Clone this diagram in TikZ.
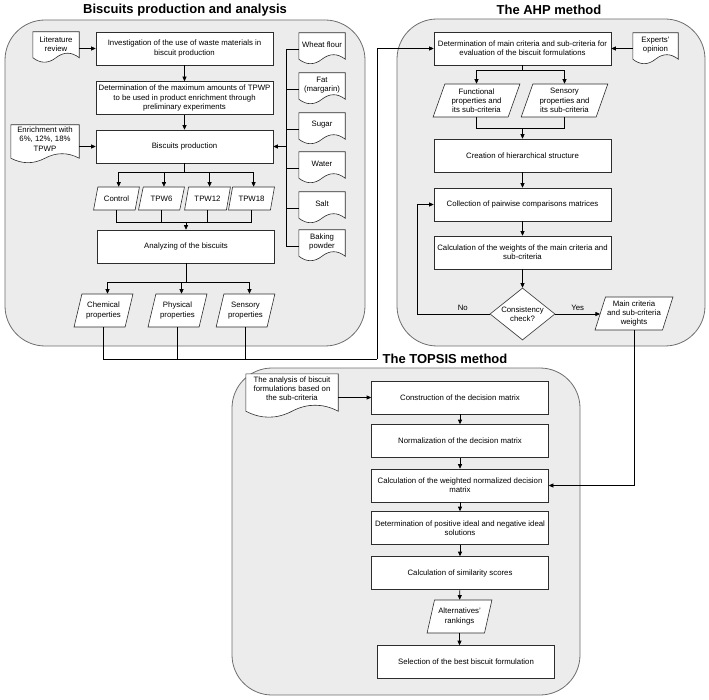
\documentclass[tikz,border=0pt]{standalone}
\usepackage{fontspec}
\setmainfont{Liberation Sans}
\usetikzlibrary{shapes.geometric,arrows.meta,calc}
\pgfdeclarelayer{panels}
\pgfdeclarelayer{docs}
\pgfsetlayers{panels,docs,main}
\definecolor{panelfill}{RGB}{236,236,236}
\definecolor{panelline}{RGB}{110,110,110}
\definecolor{nodeline}{RGB}{45,45,45}
\newcommand\myfs{\fontsize{7.8}{9.2}\selectfont}
% #1 node, #2 wave amplitude, #3 extension below node
\newcommand\docshape[3]{%
  \path[docbody] let \p1=([yshift=-#3]#1.south west), \p2=(#1.north east), \n1={(\x2-\x1)/6} in
    (\x1,\y1) -- (\x1,\y2) -- (\x2,\y2) -- (\x2,\y1)
    .. controls ({\x2-\n1},{\y1+#2}) and ({\x1+4*\n1},{\y1+#2}) .. ({\x1+3*\n1},\y1)
    .. controls ({\x1+2*\n1},{\y1-#2}) and ({\x1+\n1},{\y1-#2}) .. (\x1,\y1) -- cycle;}
\begin{document}
\begin{tikzpicture}[x=1pt,y=-1pt,
  pbox/.style={draw=nodeline, fill=white, line width=0.6pt, minimum width=177pt, minimum height=33pt, align=center, inner sep=1pt, font=\myfs},
  iosmall/.style={trapezium, trapezium stretches=true, trapezium left angle=63, trapezium right angle=117, draw=nodeline, fill=white, line width=0.6pt, align=center, inner sep=0pt, font=\myfs, minimum width=46pt, minimum height=23pt},
  iobig/.style={trapezium, trapezium stretches=true, trapezium left angle=69, trapezium right angle=111, draw=nodeline, fill=white, line width=0.6pt, align=center, inner sep=0pt, font=\myfs, minimum height=33pt},
  docnode/.style={align=center, inner sep=0pt, font=\myfs},
  docbody/.style={draw=nodeline, fill=white, line width=0.6pt},
  conn/.style={draw=black, line width=0.6pt},
  arr/.style={conn, -{Triangle[length=4.5pt,width=4pt]}},
  panel/.style={draw=panelline, fill=panelfill, rounded corners=40pt, line width=0.8pt},
  ttl/.style={font=\bfseries\fontsize{13}{15}\selectfont},
]
\useasboundingbox (0,0) rectangle (709,700);

% panels
\begin{pgfonlayer}{panels}
\draw[panel] (5,20) rectangle (365,346);
\draw[panel] (397,19) rectangle (705,346);
\draw[panel] (232,368) rectangle (580,695);
\end{pgfonlayer}

% titles
\node[ttl] (t1) at (185,10) {Biscuits production and analysis};
\node[ttl] (t2) at (549,10) {The AHP method};
\node[ttl] (t3) at (445,359) {The TOPSIS method};

% panel 1
\node[docnode, minimum width=46pt, minimum height=24pt] (lit) at (56,44) {Literature\\review};
\node[pbox] (inv) at (184.5,48.5) {Investigation of the use of waste materials in\\biscuit production};
\node[pbox] (det) at (184.5,98) {Determination of the maximum amounts of TPWP\\to be used in product enrichment through\\preliminary experiments};
\node[docnode, minimum width=68pt, minimum height=28pt] (enr) at (45,139) {Enrichment with\\6\%, 12\%, 18\%\\TPWP};
\node[pbox] (prod) at (184.5,146.5) {Biscuits production};
\node[docnode, minimum width=46pt, minimum height=24pt] (wf) at (322,45) {Wheat flour};
\node[docnode, minimum width=46pt, minimum height=24pt] (fat) at (322,85) {Fat\\(margarin)};
\node[docnode, minimum width=46pt, minimum height=24pt] (sug) at (322,125) {Sugar};
\node[docnode, minimum width=46pt, minimum height=24pt] (wat) at (322,164) {Water};
\node[docnode, minimum width=46pt, minimum height=24pt] (salt) at (322,204) {Salt};
\node[docnode, minimum width=46pt, minimum height=24pt] (bp) at (322,242) {Baking\\powder};
\node[iosmall] (ctl) at (116.5,198.5) {Control};
\node[iosmall] (t6) at (161.5,198.5) {TPW6};
\node[iosmall] (t12) at (207.5,198.5) {TPW12};
\node[iosmall] (t18) at (251.5,198.5) {TPW18};
\node[pbox] (ana) at (186,246.5) {Analyzing of the biscuits};
\node[iobig, minimum width=59pt] (chem) at (103.5,310.5) {Chemical\\properties};
\node[iobig, minimum width=59pt] (phys) at (177.5,310.5) {Physical\\properties};
\node[iobig, minimum width=59pt] (sens) at (245.5,310.5) {Sensory\\properties};

% panel 2
\node[pbox] (adet) at (522.5,48.5) {Determination of main criteria and sub-criteria for\\evaluation of the biscuit formulations};
\node[docnode, minimum width=45pt, minimum height=24pt] (exp) at (655.5,45) {Experts'\\opinion};
\node[iobig, minimum width=87pt] (func) at (476.5,100.5) {Functional\\properties and\\its sub-criteria};
\node[iobig, minimum width=87pt] (sensc) at (564.5,100.5) {Sensory\\properties and\\its sub-criteria};
\node[pbox] (create) at (522.5,155.5) {Creation of hierarchical structure};
\node[pbox] (coll) at (522.5,204.5) {Collection of pairwise comparisons matrices};
\node[pbox] (calc) at (522.5,252.5) {Calculation of the weights of the main criteria and\\sub-criteria};
\node[diamond, draw=nodeline, fill=white, line width=0.6pt, minimum width=65pt, minimum height=52pt, inner sep=0pt,
  label={[font=\myfs, align=center]center:{Consistency\\check?}}] (dia) at (522.5,314) {};
\node[iobig, minimum width=78pt] (wts) at (634,313.5) {Main criteria\\and sub-criteria\\weights};

% panel 3
\node[docnode, minimum width=92pt, minimum height=30pt] (tdoc) at (292,389) {The analysis of biscuit\\formulations based on\\the sub-criteria};
\node[pbox] (cons) at (460,397.5) {Construction of the decision matrix};
\node[pbox] (norm) at (460,441) {Normalization of the decision matrix};
\node[pbox] (cw) at (460,485.5) {Calculation of the weighted normalized decision\\matrix};
\node[pbox] (dpos) at (460,528) {Determination of positive ideal and negative ideal\\solutions};
\node[pbox] (sim) at (460,573) {Calculation of similarity scores};
\node[iobig, minimum width=65pt] (alt) at (459.5,616.5) {Alternatives'\\rankings};
\node[pbox] (sel) at (466,662) {Selection of the best biscuit formulation};

% document shapes
\begin{pgfonlayer}{docs}
\foreach \d/\a/\e in {lit/6pt/1.5pt, enr/6pt/5pt, wf/6pt/2pt, fat/6pt/2pt, sug/6pt/2pt, wat/6pt/2pt, salt/6pt/2pt, bp/6pt/2pt, exp/6pt/2pt, tdoc/8pt/7pt} {\docshape{\d}{\a}{\e}}
\end{pgfonlayer}

% connectors panel 1
\draw[arr] (lit.east |- inv.west) -- (inv.west);
\draw[arr] (inv) -- (det);
\draw[arr] (det) -- (prod);
\draw[arr] (enr.east |- prod.west) -- (prod.west);
\coordinate (busx) at (286,0);
\foreach \d in {wf,fat,sug,wat,salt,bp} {
  \coordinate (\d s) at ([yshift=-4pt]\d.west);
  \draw[conn] (\d s) -- (\d s -| busx);
}
\draw[conn] (wfs -| busx) -- (bps -| busx);
\draw[arr] (prod.east -| busx) -- (prod.east);
\coordinate (s1) at (0,172);
\draw[conn] (prod.south) -- (prod.south |- s1);
\foreach \d in {ctl,t6,t12,t18} \draw[arr] (prod.south |- s1) -| (\d.top side);
\coordinate (m1) at (0,222);
\foreach \d in {ctl,t6,t12,t18} \draw[conn] (\d.south) |- (ana.north |- m1);
\draw[arr] (ana.north |- m1) -- (ana.north);
\coordinate (s2) at (0,282);
\draw[conn] (ana.south) -- (ana.south |- s2);
\foreach \d in {chem,phys,sens} \draw[arr] (ana.south |- s2) -| (\d.top side);
\coordinate (j2) at (377,359);
\foreach \d in {chem,phys,sens} \draw[conn] (\d.south) |- (j2);
\draw[arr] (j2) |- (adet.west);

% connectors panel 2
\draw[arr] (exp.west |- adet.east) -- (adet.east);
\coordinate (a1) at (0,70);
\draw[conn] (adet.south) -- (adet.south |- a1);
\foreach \d in {func,sensc} \draw[arr] (adet.south |- a1) -| (\d.north);
\coordinate (a2) at (0,128);
\foreach \d in {func,sensc} \draw[conn] (\d.south) |- (create.north |- a2);
\draw[arr] (create.north |- a2) -- (create.north);
\draw[arr] (create) -- (coll);
\draw[arr] (coll) -- (calc);
\draw[arr] (calc) -- (dia);
\coordinate (nox) at (417,0);
\draw[arr] (dia.west) -- node[above, pos=0.37, font=\myfs]{No} (dia.west -| nox) |- (coll.west);
\draw[arr] (dia.east) -- node[above, midway, font=\myfs]{Yes} (dia.east -| wts.left side);
\draw[arr] (wts.south) |- (cw.east);

% connectors panel 3
\draw[arr] (tdoc.east |- cons.west) -- (cons.west);
\draw[arr] (cons) -- (norm);
\draw[arr] (norm) -- (cw);
\draw[arr] (cw) -- (dpos);
\draw[arr] (dpos) -- (sim);
\draw[arr] (sim) -- (alt);
\draw[arr] (alt.south) -- (alt.south |- sel.north);
\end{tikzpicture}
\end{document}
